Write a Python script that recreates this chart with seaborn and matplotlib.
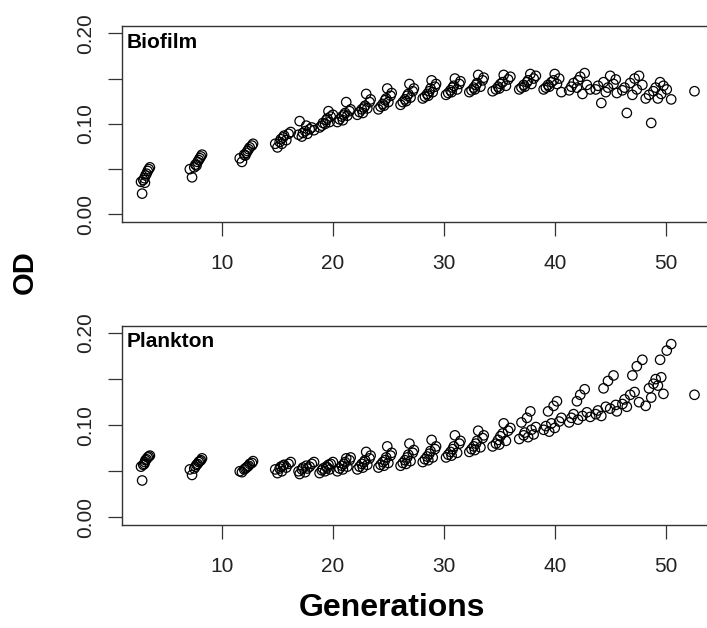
import matplotlib
matplotlib.use("Agg")
import matplotlib.pyplot as plt
import seaborn as sns
import pandas as pd

# Generations of each sample, grouped by sampling time point
generations = [
    [2.7, 2.8, 2.9, 3.0, 3.05, 3.1, 3.2, 3.3, 3.4, 3.5],
    [7.1, 7.3, 7.5, 7.6, 7.7, 7.8, 7.9, 8.0, 8.1, 8.2],
    [11.6, 11.8, 12.0, 12.1, 12.2, 12.3, 12.4, 12.5, 12.7, 12.8],
    [14.8, 15.0, 15.2, 15.3, 15.4, 15.5, 15.6, 15.8, 16.0, 16.2],
    [16.9, 17.0, 17.2, 17.3, 17.5, 17.6, 17.7, 17.9, 18.1, 18.3],
    [18.8, 19.0, 19.1, 19.3, 19.4, 19.5, 19.6, 19.7, 19.8, 20.0],
    [20.4, 20.6, 20.8, 20.9, 21.0, 21.1, 21.2, 21.3, 21.5, 21.6],
    [22.2, 22.4, 22.6, 22.7, 22.8, 22.9, 23.0, 23.1, 23.3, 23.4],
    [24.1, 24.3, 24.5, 24.6, 24.7, 24.8, 24.9, 25.0, 25.2, 25.3],
    [26.1, 26.3, 26.5, 26.6, 26.7, 26.8, 26.9, 27.0, 27.2, 27.3],
    [28.1, 28.3, 28.5, 28.6, 28.7, 28.8, 28.9, 29.0, 29.2, 29.3],
    [30.2, 30.4, 30.6, 30.7, 30.8, 30.9, 31.0, 31.2, 31.4, 31.5],
    [32.3, 32.5, 32.7, 32.8, 32.9, 33.0, 33.1, 33.3, 33.5, 33.6],
    [34.4, 34.7, 34.9, 35.0, 35.1, 35.3, 35.4, 35.6, 35.8, 36.0],
    [36.8, 37.0, 37.2, 37.3, 37.5, 37.6, 37.8, 37.9, 38.1, 38.3],
    [39.0, 39.2, 39.4, 39.5, 39.7, 39.9, 40.0, 40.2, 40.4, 40.6],
    [41.3, 41.5, 41.7, 42.0, 42.1, 42.3, 42.5, 42.7, 42.9, 43.2],
    [43.7, 43.9, 44.2, 44.4, 44.6, 44.8, 45.0, 45.3, 45.5, 45.6],
    [46.1, 46.3, 46.5, 46.8, 47.0, 47.2, 47.4, 47.6, 47.9, 48.2],
    [48.5, 48.7, 48.9, 49.1, 49.3, 49.5, 49.6, 49.8, 50.1, 50.5],
    [52.6],
]

od_biofilm = [
    [0.036, 0.023, 0.038, 0.040, 0.035, 0.043, 0.045, 0.048, 0.050, 0.052],
    [0.050, 0.041, 0.052, 0.055, 0.054, 0.058, 0.060, 0.062, 0.064, 0.066],
    [0.062, 0.058, 0.066, 0.065, 0.068, 0.070, 0.072, 0.074, 0.076, 0.078],
    [0.078, 0.074, 0.080, 0.083, 0.078, 0.085, 0.087, 0.082, 0.089, 0.091],
    [0.088, 0.103, 0.086, 0.090, 0.092, 0.098, 0.089, 0.094, 0.096, 0.093],
    [0.096, 0.098, 0.101, 0.100, 0.104, 0.106, 0.114, 0.102, 0.108, 0.110],
    [0.102, 0.105, 0.108, 0.104, 0.110, 0.112, 0.124, 0.109, 0.114, 0.116],
    [0.110, 0.113, 0.116, 0.112, 0.118, 0.120, 0.133, 0.117, 0.124, 0.127],
    [0.116, 0.119, 0.122, 0.120, 0.126, 0.128, 0.139, 0.124, 0.131, 0.134],
    [0.121, 0.124, 0.127, 0.125, 0.131, 0.133, 0.144, 0.129, 0.136, 0.139],
    [0.128, 0.130, 0.133, 0.131, 0.136, 0.139, 0.148, 0.135, 0.141, 0.144],
    [0.132, 0.134, 0.137, 0.135, 0.140, 0.142, 0.150, 0.138, 0.144, 0.147],
    [0.135, 0.137, 0.140, 0.138, 0.143, 0.145, 0.154, 0.141, 0.148, 0.151],
    [0.136, 0.138, 0.141, 0.139, 0.144, 0.146, 0.154, 0.142, 0.149, 0.152],
    [0.138, 0.140, 0.143, 0.141, 0.146, 0.148, 0.155, 0.144, 0.150, 0.153],
    [0.138, 0.140, 0.143, 0.141, 0.146, 0.148, 0.155, 0.144, 0.150, 0.135],
    [0.137, 0.141, 0.145, 0.140, 0.148, 0.152, 0.133, 0.156, 0.143, 0.138],
    [0.138, 0.142, 0.123, 0.146, 0.135, 0.140, 0.153, 0.144, 0.149, 0.134],
    [0.137, 0.140, 0.112, 0.145, 0.132, 0.150, 0.138, 0.153, 0.143, 0.128],
    [0.132, 0.101, 0.136, 0.140, 0.128, 0.146, 0.133, 0.142, 0.138, 0.127],
    [0.136],
]

od_plankton = [
    [0.055, 0.040, 0.057, 0.058, 0.060, 0.062, 0.063, 0.065, 0.066, 0.067],
    [0.052, 0.046, 0.053, 0.055, 0.057, 0.058, 0.060, 0.061, 0.062, 0.064],
    [0.050, 0.049, 0.052, 0.053, 0.054, 0.055, 0.056, 0.058, 0.059, 0.061],
    [0.052, 0.048, 0.053, 0.055, 0.050, 0.056, 0.057, 0.054, 0.058, 0.060],
    [0.050, 0.047, 0.052, 0.054, 0.049, 0.056, 0.053, 0.055, 0.058, 0.060],
    [0.048, 0.051, 0.053, 0.050, 0.055, 0.054, 0.057, 0.052, 0.058, 0.060],
    [0.050, 0.053, 0.056, 0.052, 0.058, 0.060, 0.064, 0.055, 0.062, 0.065],
    [0.052, 0.055, 0.058, 0.054, 0.060, 0.062, 0.071, 0.057, 0.064, 0.067],
    [0.054, 0.057, 0.060, 0.056, 0.062, 0.065, 0.077, 0.059, 0.067, 0.070],
    [0.056, 0.059, 0.062, 0.058, 0.065, 0.068, 0.080, 0.061, 0.070, 0.073],
    [0.060, 0.063, 0.066, 0.062, 0.069, 0.072, 0.084, 0.065, 0.074, 0.077],
    [0.065, 0.068, 0.071, 0.067, 0.074, 0.077, 0.089, 0.070, 0.080, 0.083],
    [0.071, 0.074, 0.077, 0.073, 0.080, 0.083, 0.094, 0.076, 0.086, 0.089],
    [0.077, 0.080, 0.084, 0.079, 0.088, 0.091, 0.102, 0.083, 0.094, 0.097],
    [0.085, 0.103, 0.089, 0.092, 0.108, 0.087, 0.115, 0.095, 0.090, 0.098],
    [0.095, 0.099, 0.115, 0.093, 0.102, 0.121, 0.097, 0.126, 0.104, 0.108],
    [0.103, 0.108, 0.112, 0.126, 0.106, 0.133, 0.110, 0.139, 0.114, 0.109],
    [0.112, 0.116, 0.110, 0.140, 0.120, 0.148, 0.118, 0.154, 0.122, 0.115],
    [0.123, 0.128, 0.120, 0.133, 0.154, 0.136, 0.164, 0.125, 0.171, 0.121],
    [0.140, 0.130, 0.145, 0.150, 0.143, 0.171, 0.152, 0.134, 0.181, 0.188],
    [0.133],
]

panel_names = ["Biofilm", "Plankton"]
x_ticks = [10, 20, 30, 40, 50]
y_ticks = [0.0, 0.05, 0.10, 0.15, 0.20]
y_tick_labels = ["0.00", "", "0.10", "", "0.20"]

rows = []
for name, series in zip(panel_names, [od_biofilm, od_plankton]):
    for gens, ods in zip(generations, series):
        for g, v in zip(gens, ods):
            rows.append({"panel": name, "Generations": g, "OD": v})
df = pd.DataFrame(rows)

sns.set_style("ticks")
plt.rcParams["font.family"] = ["Liberation Sans", "DejaVu Sans"]

W, H = 707, 628
fig = plt.figure(figsize=(W / 100, H / 100), dpi=100)

def px_axes(left, top, right, bottom):
    return [left / W, 1 - bottom / H, (right - left) / W, (bottom - top) / H]

axes_rects = [px_axes(122, 26, 718, 221.7), px_axes(122, 325.7, 718, 524.7)]

for name, rect in zip(panel_names, axes_rects):
    ax = fig.add_axes(rect)
    sub = df[df["panel"] == name]
    sns.scatterplot(data=sub, x="Generations", y="OD", ax=ax, marker="o",
                    s=46, color="black", legend=False)
    pts = ax.collections[-1]
    pts.set_facecolor("none")
    pts.set_edgecolor("black")
    pts.set_linewidth(0.9)
    ax.set_xlim(0.985, 54.72)
    ax.set_ylim(-0.008, 0.208)
    ax.set_xticks(x_ticks)
    ax.set_xticklabels([str(t) for t in x_ticks])
    ax.set_yticks(y_ticks)
    ax.set_yticklabels(y_tick_labels)
    ax.set_xlabel("")
    ax.set_ylabel("")
    ax.tick_params(axis="both", length=10, width=0.9, color="#333333",
                   labelsize=15, labelcolor="#222222")
    ax.tick_params(axis="x", pad=13)
    ax.tick_params(axis="y", pad=9, labelrotation=90)
    for lab in ax.get_yticklabels():
        lab.set_va("center")
    for sp in ax.spines.values():
        sp.set_visible(True)
        sp.set_linewidth(1.0)
        sp.set_color("#333333")
    ax.annotate(name, xy=(0, 1), xycoords="axes fraction",
                xytext=(3.6, -15.5), textcoords="offset points",
                ha="left", va="baseline", fontsize=15, fontweight="bold",
                color="black")

fig.text(25 / W, 1 - 272 / H, "OD", rotation=90, ha="center", va="center",
         fontsize=21, fontweight="bold", color="black")
fig.text(392 / W, 1 - 616 / H, "Generations", ha="center", va="baseline",
         fontsize=23, fontweight="bold", color="black")

fig.savefig("out.png", dpi=100)
